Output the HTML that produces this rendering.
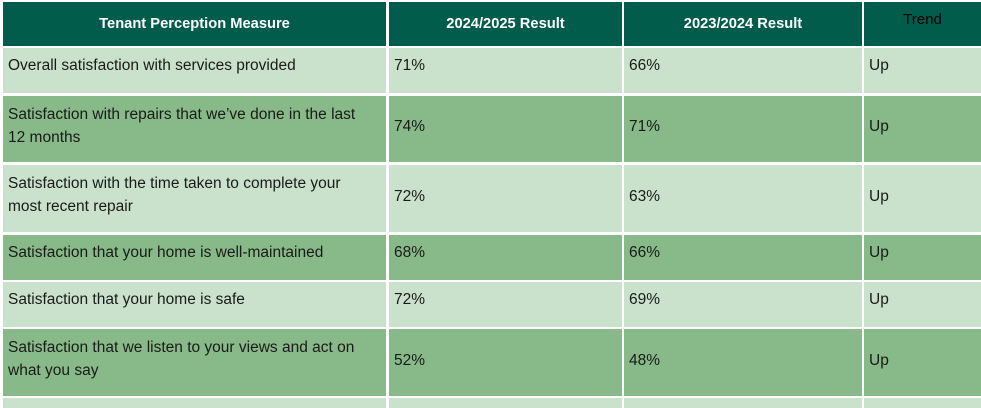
<!DOCTYPE html>
<html><head><meta charset="utf-8"><style>
body{margin:0;width:981px;height:400px;background:#fff;position:relative;overflow:hidden;font-family:"Liberation Sans",sans-serif;}
.c{position:absolute;box-sizing:border-box;padding-left:5px;font-size:15.5px;color:#1a1a1a;line-height:23px;white-space:nowrap;}
.h{background:#025c4c;color:#fff;font-weight:bold;text-align:center;padding:0;font-size:14.7px;}
.l{background:#cae2cb;}.d{background:#88b988;}
</style></head><body>
<div class="c h" style="left:3px;top:2px;width:383px;height:44px;line-height:44px">Tenant Perception Measure</div>
<div class="c h" style="left:389px;top:2px;width:233px;height:44px;line-height:44px">2024/2025 Result</div>
<div class="c h" style="left:624px;top:2px;width:238px;height:44px;line-height:44px">2023/2024 Result</div>
<div class="c h" style="left:864px;top:2px;width:117px;height:44px;line-height:36px;color:#000;font-weight:normal;font-size:15px">Trend</div>
<div id="rows"></div>
<script>
var rows=[["Overall satisfaction with services provided","71%","66%",48,45,"l"],
["Satisfaction with repairs that we’ve done in the last<br>12 months","74%","71%",96,66,"d"],
["Satisfaction with the time taken to complete your<br>most recent repair","72%","63%",165,67,"l"],
["Satisfaction that your home is well-maintained","68%","66%",235,45,"d"],
["Satisfaction that your home is safe","72%","69%",282,45,"l"],
["Satisfaction that we listen to your views and act on<br>what you say","52%","48%",329,67,"d"],
["","","",398,10,"l"]];
var h="",xs=[[3,383],[389,233],[624,238],[864,117]];
rows.forEach(function(r){var two=r[0].indexOf("<br>")>=0;
var pt=two?7:6;
[r[0],r[1],r[2],r[0]?"Up":""].forEach(function(t,i){
var pad=(i>0&&two)?Math.round(r[4]/2-14):pt;
h+='<div class="c '+r[5]+'" style="left:'+xs[i][0]+'px;top:'+r[3]+'px;width:'+xs[i][1]+'px;height:'+r[4]+'px;padding-top:'+pad+'px">'+t+'</div>';});});
document.getElementById("rows").innerHTML=h;
</script>
</body></html>
